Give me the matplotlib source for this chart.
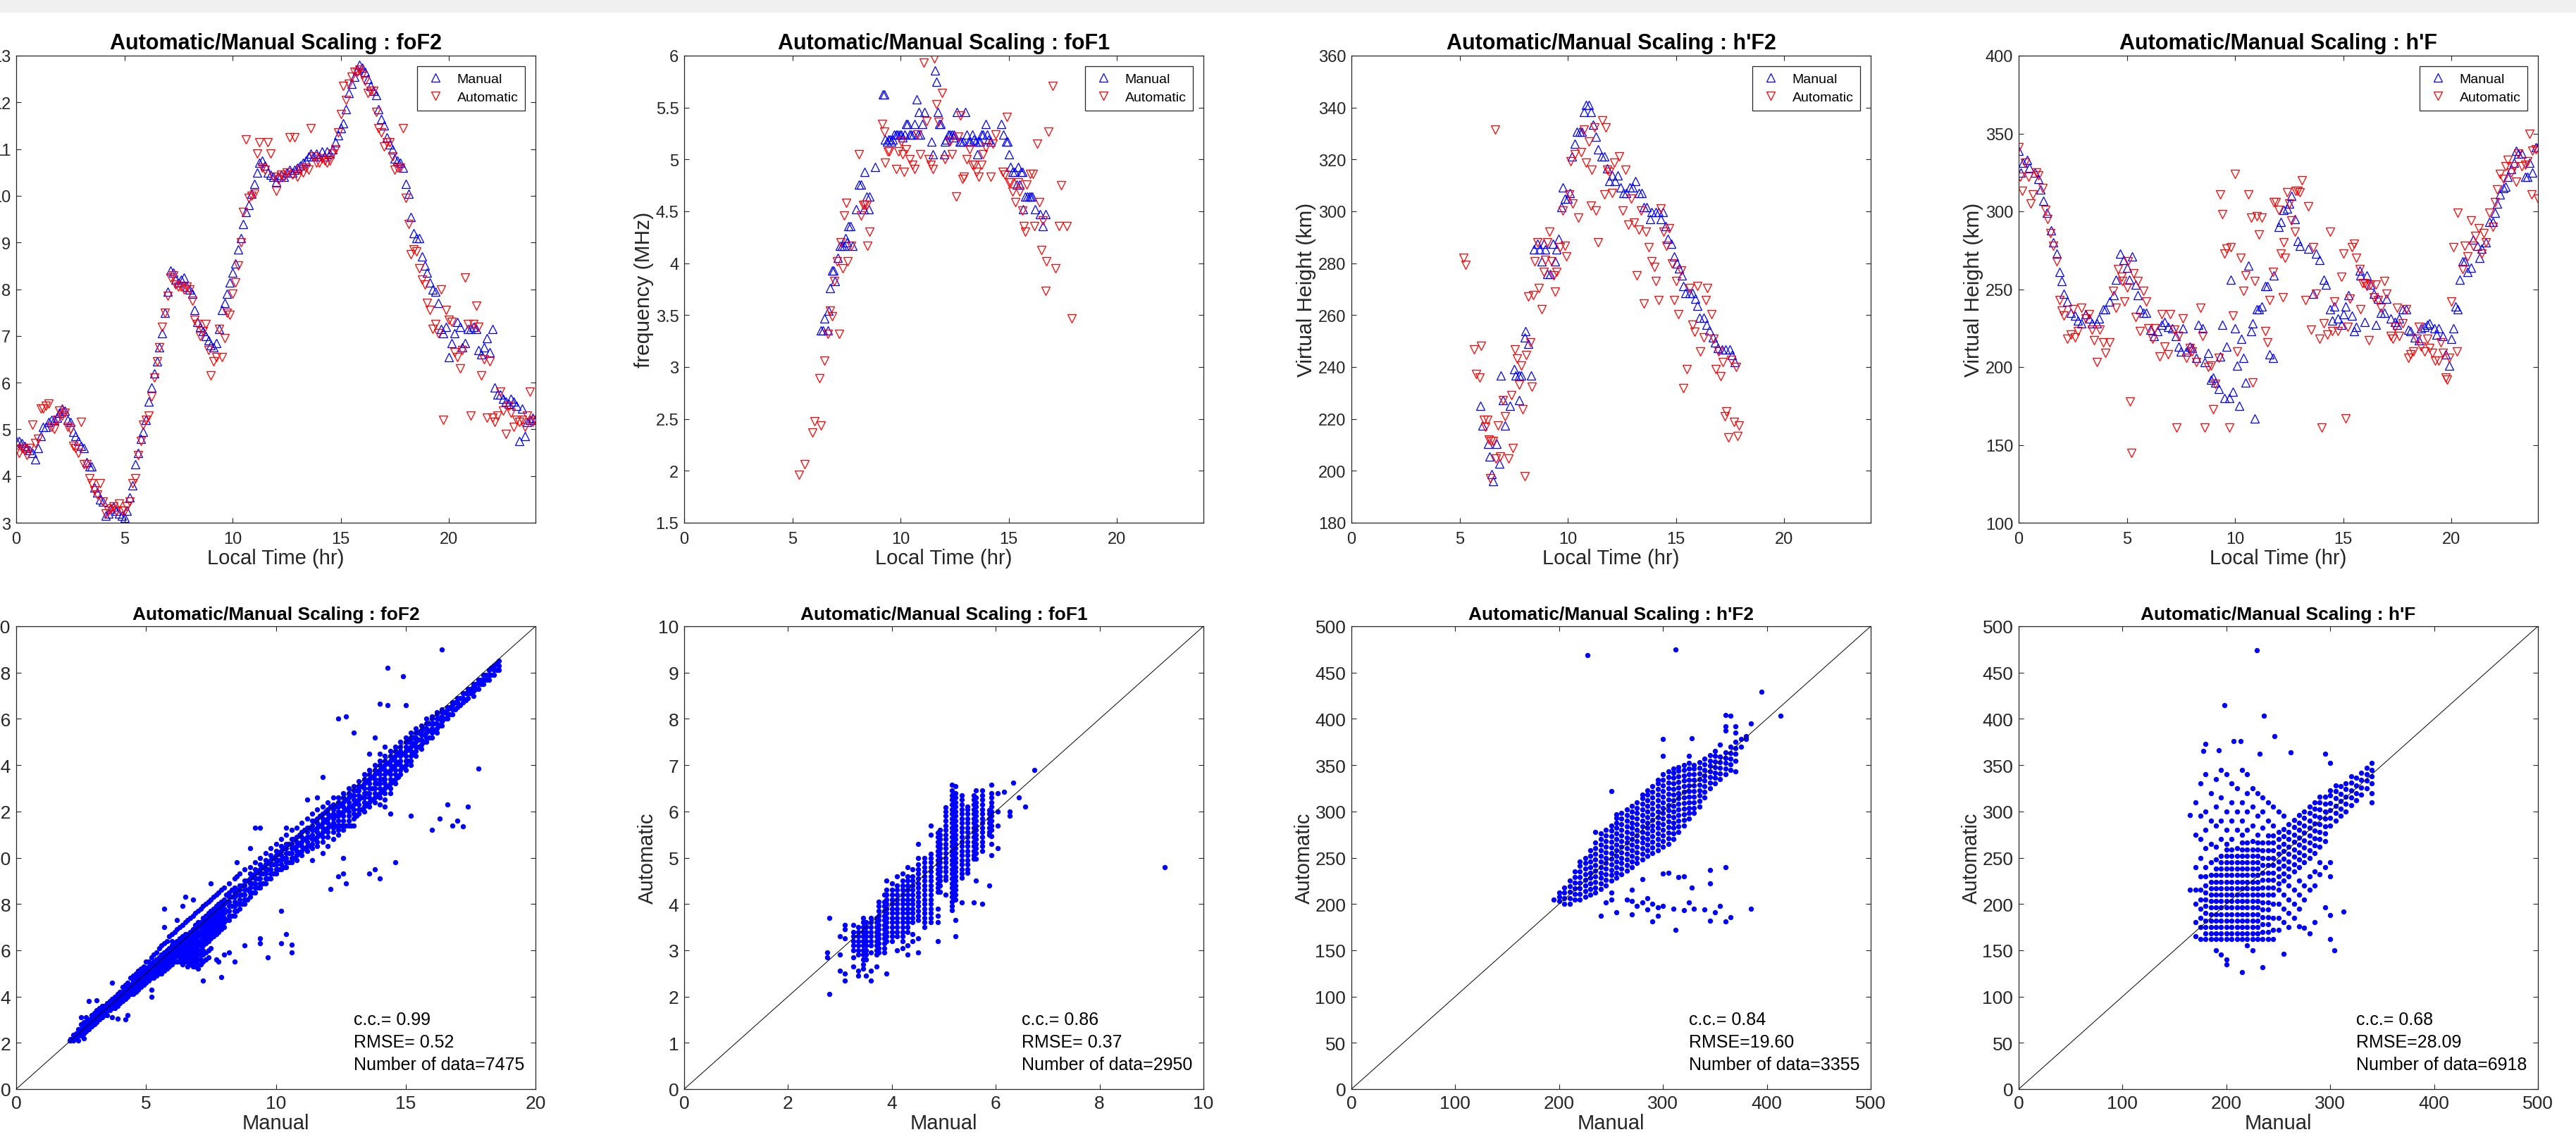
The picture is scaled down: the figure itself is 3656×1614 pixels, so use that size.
import numpy as np
import matplotlib
matplotlib.use('Agg')
import matplotlib.pyplot as plt
from matplotlib.ticker import FuncFormatter
from matplotlib.patches import Rectangle

plt.rcParams['font.family'] = ['Liberation Sans', 'DejaVu Sans']

# ---------------- top row: one day, value vs local time ----------------
# foF2, one value every 7.5 minutes (0 .. 24 h)
foF2_manual = [
    4.75, 4.75, 4.70, 4.65, 4.60, 4.55, 4.50, 4.35,
    4.60, 4.85, 5.05, 5.05, 5.15, 5.20, 5.20, 5.25,
    5.35, 5.45, 5.40, 5.20, 5.15, 4.95, 4.85, 4.75,
    4.65, 4.60, 4.30, 4.20, 4.20, 3.75, 3.65, 3.50,
    3.45, 3.15, 3.20, 3.30, 3.35, 3.25, 3.20, 3.15,
    3.10, 3.25, 3.55, 3.80, 4.25, 4.50, 4.80, 4.95,
    5.20, 5.60, 5.90, 6.20, 6.45, 6.75, 7.05, 7.50,
    7.95, 8.40, 8.35, 8.20, 8.15, 8.20, 8.25, 8.05,
    8.00, 7.90, 7.55, 7.30, 7.20, 7.10, 7.00, 6.90,
    6.80, 6.75, 6.85, 7.15, 7.55, 7.70, 7.90, 8.15,
    8.35, 8.55, 8.85, 9.10, 9.40, 9.65, 9.80, 10.05,
    10.25, 10.50, 10.70, 10.75, 10.65, 10.50, 10.45, 10.40,
    10.30, 10.40, 10.45, 10.40, 10.50, 10.55, 10.50, 10.55,
    10.60, 10.65, 10.70, 10.75, 10.85, 10.90, 10.85, 10.90,
    10.85, 10.95, 10.85, 10.95, 10.90, 11.00, 11.15, 11.30,
    11.45, 11.55, 11.85, 12.20, 12.40, 12.55, 12.70, 12.80,
    12.75, 12.65, 12.50, 12.35, 12.25, 12.15, 11.85, 11.65,
    11.50, 11.25, 11.10, 11.00, 10.80, 10.75, 10.70, 10.60,
    10.25, 10.05, 9.55, 9.20, 9.10, 9.10, 8.70, 8.50,
    8.35, 8.15, 8.00, 7.95, 7.70, 7.15, 7.05, 7.20,
    6.55, 6.85, 7.05, 7.30, 7.20, 6.75, 6.85, 7.15,
    7.15, 7.20, 7.15, 6.70, 6.60, 6.75, 6.95, 6.65,
    7.15, 5.90, 5.75, 5.75, 5.65, 5.60, 5.55, 5.65,
    5.60, 5.50, 4.75, 5.45, 4.85, 5.15, 5.20, 5.25,
    5.20]
foF2_auto = [
    4.55, 4.50, 4.60, 4.55, 4.45, 4.60, 5.10, 4.70,
    4.80, 5.45, 5.45, 5.50, 5.55, 5.05, 5.00, 5.20,
    5.40, 5.30, 5.35, 5.05, 5.00, 4.65, 4.60, 4.50,
    5.15, 4.25, 4.25, 3.95, 3.85, 3.70, 3.60, 3.85,
    3.45, 3.20, 3.25, 3.30, 3.35, 3.25, 3.40, 3.25,
    3.25, 3.35, 3.45, 3.85, 3.95, 4.45, 4.75, 5.10,
    5.20, 5.30, 5.70, 6.10, 6.45, 6.75, 7.20, 7.50,
    7.85, 8.25, 8.30, 8.10, 8.05, 8.05, 8.00, 8.05,
    8.00, 7.75, 7.35, 7.25, 7.00, 7.10, 7.25, 6.70,
    6.15, 6.45, 6.55, 7.15, 6.55, 6.95, 7.50, 7.45,
    7.90, 8.15, 8.50, 9.00, 9.65, 11.20, 9.95, 10.00,
    10.05, 10.90, 11.15, 10.60, 10.55, 11.15, 10.90, 10.40,
    10.10, 10.35, 10.45, 10.40, 10.50, 11.25, 10.45, 11.25,
    10.40, 10.55, 10.50, 10.60, 10.55, 11.45, 10.85, 10.70,
    10.70, 10.80, 10.75, 10.70, 10.75, 10.90, 11.00, 11.35,
    11.75, 12.35, 12.05, 12.40, 12.55, 12.65, 12.65, 12.70,
    12.60, 12.45, 12.20, 12.25, 12.25, 11.80, 11.45, 11.35,
    11.05, 11.15, 11.15, 10.85, 10.55, 10.60, 10.60, 11.45,
    9.95, 9.40, 8.75, 8.85, 8.80, 8.45, 8.20, 8.10,
    7.70, 7.55, 7.15, 7.25, 7.05, 8.00, 5.20, 7.55,
    7.35, 7.30, 6.65, 6.55, 6.30, 6.70, 8.25, 7.25,
    5.30, 7.25, 7.65, 7.20, 6.15, 6.50, 5.25, 6.45,
    5.25, 5.15, 5.30, 5.80, 5.40, 4.90, 5.50, 5.35,
    5.05, 5.20, 5.15, 5.20, 5.05, 5.30, 5.80, 5.15,
    5.20]

# foF1 (time h, MHz)
foF1_manual = [
    (6.33, 3.35), (6.42, 3.35), (6.48, 3.47), (6.63, 3.35), (6.67, 3.54), (6.74, 3.76),
    (6.85, 3.93), (6.9, 3.93), (6.98, 3.83), (7.1, 4.05), (7.19, 4.17), (7.28, 4.17),
    (7.38, 4.17), (7.45, 4.24), (7.52, 4.2), (7.6, 4.36), (7.68, 4.36), (7.79, 4.17),
    (7.94, 4.52), (8.08, 4.76), (8.16, 4.76), (8.3, 4.52), (8.35, 4.88), (8.45, 4.64),
    (8.54, 4.52), (8.58, 4.64), (8.82, 4.93), (9.19, 5.63), (9.26, 5.63), (9.29, 5.19),
    (9.38, 5.17), (9.44, 5.19), (9.5, 5.19), (9.57, 5.17), (9.65, 5.19), (9.72, 5.24),
    (9.8, 5.24), (9.88, 5.24), (9.95, 5.24), (10.02, 5.24), (10.1, 5.21), (10.19, 5.24),
    (10.26, 5.34), (10.33, 5.34), (10.41, 5.24), (10.5, 5.24), (10.57, 5.24), (10.64, 5.34),
    (10.75, 5.58), (10.8, 5.24), (10.84, 5.46), (10.9, 5.24), (11.01, 5.34), (11.09, 5.46),
    (11.44, 5.17), (11.5, 5.05), (11.59, 5.86), (11.65, 5.75), (11.72, 5.46), (11.8, 5.34),
    (11.85, 5.34), (12.0, 5.05), (12.06, 5.17), (12.12, 5.19), (12.2, 5.24), (12.28, 5.24),
    (12.36, 5.24), (12.44, 5.21), (12.47, 5.24), (12.6, 5.46), (12.72, 5.17), (12.8, 5.17),
    (12.9, 5.17), (13.0, 5.46), (13.07, 5.24), (13.15, 5.17), (13.22, 5.17), (13.31, 5.24),
    (13.4, 5.19), (13.48, 5.17), (13.56, 5.05), (13.62, 5.17), (13.69, 5.17), (13.75, 5.24),
    (13.82, 5.24), (13.93, 5.34), (14.0, 5.24), (14.08, 5.19), (14.16, 5.17), (14.66, 5.34),
    (14.76, 5.24), (14.87, 5.17), (14.95, 5.17), (15.0, 5.05), (15.09, 4.93), (15.18, 4.88),
    (15.28, 4.88), (15.36, 4.76), (15.43, 4.93), (15.51, 4.76), (15.58, 4.88), (15.62, 4.88),
    (15.66, 4.52), (15.75, 4.64), (15.85, 4.64), (15.95, 4.64), (16.03, 4.64), (16.1, 4.64),
    (16.22, 4.52), (16.46, 4.47), (16.59, 4.36), (16.69, 4.47)]
foF1_auto = [
    (5.32, 1.96), (5.58, 2.06), (5.92, 2.37), (6.01, 2.48), (6.25, 2.89), (6.33, 2.44),
    (6.48, 3.06), (6.63, 3.32), (6.74, 3.54), (6.85, 3.49), (6.93, 3.83), (7.08, 4.02),
    (7.15, 3.32), (7.23, 4.2), (7.34, 3.95), (7.38, 4.46), (7.49, 4.58), (7.57, 4.02),
    (7.73, 4.17), (8.07, 5.05), (8.16, 4.46), (8.26, 4.56), (8.35, 4.56), (8.45, 4.56),
    (8.48, 4.17), (8.58, 4.3), (9.14, 5.34), (9.25, 5.27), (9.29, 4.97), (9.4, 5.08),
    (9.48, 5.08), (9.81, 4.91), (9.91, 5.08), (10.04, 5.17), (10.08, 5.05), (10.17, 4.88),
    (10.26, 5.1), (10.41, 5.0), (10.56, 4.95), (10.64, 4.91), (10.79, 5.24), (10.9, 5.05),
    (11.07, 5.93), (11.2, 5.37), (11.31, 5.0), (11.4, 4.95), (11.5, 4.91), (11.57, 5.97),
    (11.65, 5.53), (11.74, 5.36), (11.91, 5.64), (12.06, 5.0), (12.28, 5.17), (12.38, 5.05),
    (12.56, 4.64), (12.66, 5.22), (12.75, 5.42), (12.85, 4.81), (12.94, 4.83), (13.07, 5.0),
    (13.18, 5.1), (13.31, 4.95), (13.41, 4.95), (13.5, 4.88), (13.6, 4.83), (13.73, 4.95),
    (13.82, 5.05), (13.93, 5.12), (14.16, 4.83), (14.25, 5.15), (14.4, 5.24), (14.72, 4.88),
    (14.81, 4.85), (14.91, 5.41), (15.0, 4.78), (15.09, 4.78), (15.19, 4.69), (15.32, 4.59),
    (15.43, 4.78), (15.51, 4.69), (15.62, 4.51), (15.69, 4.36), (15.75, 4.3), (15.84, 4.76),
    (15.99, 4.86), (16.12, 4.86), (16.18, 4.36), (16.31, 5.15), (16.4, 4.59), (16.5, 4.13),
    (16.59, 4.41), (16.69, 3.73), (16.74, 4.02), (16.82, 5.27), (17.02, 5.71), (17.15, 3.95),
    (17.34, 4.36), (17.43, 4.75), (17.68, 4.36), (17.9, 3.47)]

# h'F2 (time h, km)
hF2_manual = [
    (5.97, 225), (6.07, 217.6), (6.31, 210.5), (6.39, 205.4), (6.48, 198.6), (6.54, 196.1),
    (6.72, 210.5), (6.84, 202.9), (6.91, 236.8), (7.0, 227.3), (7.1, 217.6), (7.32, 225),
    (7.51, 239.3), (7.6, 236.8), (7.75, 236.8), (7.75, 227.3), (7.85, 236.8), (8.0, 251.5),
    (8.03, 253.9), (8.18, 249), (8.31, 236.8), (8.45, 285.4), (8.6, 287.4), (8.69, 285.4),
    (8.78, 280.6), (8.88, 287.4), (8.97, 285.4), (9.06, 275.9), (9.19, 275.9), (9.31, 287.4),
    (9.4, 280.6), (9.49, 285.4), (9.57, 289.5), (9.72, 301.7), (9.76, 309.1), (9.87, 305),
    (10.0, 305), (10.09, 307.1), (10.19, 321.3), (10.32, 326.1), (10.41, 330.8), (10.56, 330.8),
    (10.66, 330.8), (10.75, 338.3), (10.84, 341), (10.96, 341), (11.07, 338.3), (11.18, 333.5),
    (11.31, 328.8), (11.4, 324), (11.55, 321.3), (11.69, 321.3), (11.82, 316.6), (11.93, 311.8),
    (12.06, 313.9), (12.19, 311.8), (12.3, 313.9), (12.43, 309.1), (12.57, 307.1), (12.71, 307.1),
    (12.87, 309.1), (13.0, 309.1), (13.13, 311.8), (13.28, 307.1), (13.43, 307.1), (13.5, 301.7),
    (13.65, 301.7), (13.8, 296.9), (13.88, 299.6), (14.06, 299.6), (14.21, 299.6), (14.31, 296.9),
    (14.4, 299.6), (14.53, 294.2), (14.63, 289.5), (14.78, 287.4), (14.93, 282.7), (15.06, 280),
    (15.15, 277.9), (15.26, 275.2), (15.34, 271.2), (15.45, 268.4), (15.62, 268.4), (15.75, 268.4),
    (15.9, 266.4), (15.99, 263.7), (16.09, 258.9), (16.27, 258.9), (16.42, 256.2), (16.55, 254.2),
    (16.69, 251.5), (16.8, 249.4), (16.93, 247.4), (17.12, 246.7), (17.3, 246.7), (17.49, 246.7),
    (17.58, 244.7), (17.73, 242)]
hF2_auto = [
    (5.17, 282), (5.26, 279.3), (5.66, 246.7), (5.75, 237.2), (5.92, 235.9), (5.99, 248.1),
    (6.11, 219.6), (6.2, 216.9), (6.29, 219.6), (6.35, 212.1), (6.41, 197.2), (6.44, 211.5),
    (6.54, 211.5), (6.63, 331.5), (6.67, 204.7), (6.76, 217.6), (6.88, 205.4), (6.99, 227.3),
    (7.1, 220.9), (7.25, 204.7), (7.38, 229.1), (7.47, 208.7), (7.57, 246.7), (7.66, 243.3),
    (7.75, 233.2), (7.85, 240.6), (7.92, 223.7), (8.0, 197.9), (8.07, 244.7), (8.16, 267.1),
    (8.26, 249.4), (8.33, 232.5), (8.41, 267.8), (8.48, 280.6), (8.6, 288.1), (8.67, 270.5),
    (8.78, 262.3), (8.88, 276.6), (8.97, 281.3), (9.06, 288.1), (9.16, 292.2), (9.25, 280.6),
    (9.34, 275.2), (9.4, 269.1), (9.49, 276.6), (9.63, 286.1), (9.76, 300.3), (9.87, 286.7),
    (9.94, 282.7), (10.06, 306.4), (10.13, 319.3), (10.24, 303), (10.32, 322), (10.47, 297.6),
    (10.62, 322.7), (10.75, 331.5), (10.84, 318.6), (10.99, 326.8), (11.07, 302.3), (11.12, 315.9),
    (11.22, 332.2), (11.31, 300.3), (11.4, 288.1), (11.59, 334.9), (11.69, 306.4), (11.74, 332.2),
    (11.82, 315.9), (11.91, 315.2), (12.06, 307.1), (12.15, 318.6), (12.38, 321.3), (12.53, 300.3),
    (12.66, 315.9), (12.81, 294.9), (12.94, 305), (13.05, 295.6), (13.18, 275.2), (13.28, 292.9),
    (13.37, 300.3), (13.5, 264.4), (13.61, 292.2), (13.75, 286.1), (13.88, 280.6), (13.99, 278.6),
    (14.08, 273.2), (14.21, 265.7), (14.31, 301), (14.44, 292.2), (14.55, 286.7), (14.68, 293.5),
    (14.81, 280), (14.93, 265.7), (15.0, 273.2), (15.11, 260.3), (15.24, 277.3), (15.34, 231.8),
    (15.49, 239.3), (15.62, 270.5), (15.75, 256.2), (15.86, 253.5), (15.99, 271.2), (16.12, 246.1),
    (16.27, 251.5), (16.38, 265.7), (16.46, 270.5), (16.65, 260.3), (16.74, 250.8), (16.84, 239.3),
    (16.97, 246.1), (17.08, 236.5), (17.17, 242), (17.25, 220.9), (17.34, 222.9), (17.43, 212.8),
    (17.55, 242.7), (17.68, 218.9), (17.77, 240), (17.86, 213.5), (17.92, 217.6)]

# h'F (time h, km)
hF_manual = [
    (0.0, 339), (0.1, 325), (0.2, 331), (0.4, 333), (0.5, 328), (0.75, 325), (0.9, 321),
    (1.0, 314), (1.15, 307), (1.3, 299), (1.5, 288), (1.6, 280), (1.75, 273), (1.9, 261),
    (2.0, 255), (2.1, 247), (2.25, 242), (2.4, 235), (2.6, 233), (2.75, 230), (2.9, 228),
    (3.1, 234), (3.25, 231), (3.4, 228), (3.6, 228), (3.7, 231), (3.9, 237), (4.0, 237),
    (4.2, 242), (4.4, 246), (4.5, 256), (4.7, 273), (4.85, 269), (5.0, 264), (5.1, 256),
    (5.25, 271), (5.4, 253), (5.5, 246), (5.6, 237), (5.75, 235), (5.9, 235), (6.1, 224),
    (6.25, 220), (6.4, 223), (6.6, 227), (6.75, 229), (6.9, 226), (7.1, 225), (7.25, 220),
    (7.4, 213), (7.5, 210), (7.6, 225), (7.75, 210), (7.9, 213), (8.0, 212), (8.2, 206),
    (8.3, 227), (8.5, 225), (8.6, 203), (8.75, 209), (8.9, 192), (9.0, 193), (9.1, 190),
    (9.25, 186), (9.3, 207), (9.4, 227), (9.5, 180), (9.6, 213), (9.75, 180), (9.8, 256),
    (9.9, 184), (10.0, 225), (10.1, 201), (10.2, 175), (10.3, 218), (10.4, 206), (10.5, 190),
    (10.6, 265), (10.75, 223), (10.8, 228), (10.9, 167), (11.0, 237), (11.1, 237), (11.25, 239),
    (11.4, 252), (11.5, 252), (11.6, 208), (11.75, 206), (11.8, 259), (12.0, 290), (12.1, 293),
    (12.25, 301), (12.4, 302), (12.5, 305), (12.6, 310), (12.75, 295), (12.9, 281), (13.0, 278),
    (13.4, 276), (13.6, 247), (13.75, 273), (13.9, 269), (14.1, 256), (14.2, 253), (14.4, 237),
    (14.5, 230), (14.6, 239), (14.75, 231), (14.9, 227), (15.0, 234), (15.1, 239), (15.25, 246),
    (15.4, 233), (15.5, 223), (15.6, 226), (15.75, 262), (15.8, 259), (16.0, 229), (16.1, 259),
    (16.25, 253), (16.4, 247), (16.5, 227), (16.6, 244), (16.75, 235), (16.9, 235), (17.0, 244),
    (17.2, 231), (17.4, 229), (17.5, 227), (17.6, 231), (17.75, 237), (17.9, 237), (18.0, 224),
    (18.1, 223), (18.3, 219), (18.5, 217), (18.6, 225), (18.75, 226), (18.9, 227), (19.0, 228),
    (19.2, 225), (19.3, 221), (19.4, 225), (19.6, 220), (19.75, 208), (19.9, 201), (20.0, 218),
    (20.1, 225), (20.2, 239), (20.3, 237), (20.4, 256), (20.5, 268), (20.6, 268), (20.75, 261),
    (20.9, 264), (21.0, 282), (21.2, 278), (21.3, 270), (21.4, 276), (21.6, 280), (21.75, 293),
    (21.9, 293), (22.0, 299), (22.1, 305), (22.25, 311), (22.4, 315), (22.5, 316), (22.6, 322),
    (22.75, 327), (22.9, 331), (23.0, 339), (23.1, 337), (23.25, 337), (23.4, 322), (23.5, 322),
    (23.6, 331), (23.75, 325), (23.9, 341), (24.0, 341)]
hF_auto = [
    (0.0, 341), (0.05, 322), (0.15, 313), (0.3, 331), (0.45, 322), (0.55, 305), (0.65, 311),
    (0.8, 325), (0.9, 323), (1.1, 315), (1.25, 301), (1.35, 295), (1.45, 286), (1.6, 278),
    (1.75, 268), (1.9, 243), (2.0, 236), (2.1, 233), (2.25, 218), (2.4, 221), (2.5, 237),
    (2.6, 219), (2.75, 223), (2.9, 238), (3.1, 231), (3.25, 234), (3.4, 224), (3.5, 217),
    (3.6, 203), (3.75, 224), (3.9, 216), (4.0, 209), (4.2, 216), (4.35, 249), (4.5, 238),
    (4.6, 263), (4.75, 258), (4.8, 255), (4.9, 242), (5.0, 251), (5.05, 268), (5.15, 178),
    (5.2, 145), (5.3, 260), (5.4, 232), (5.5, 255), (5.6, 223), (5.75, 249), (5.9, 242),
    (6.0, 225), (6.2, 218), (6.3, 225), (6.5, 207), (6.6, 234), (6.75, 213), (6.9, 208),
    (7.0, 234), (7.2, 224), (7.3, 161), (7.4, 220), (7.6, 231), (7.75, 206), (7.9, 212),
    (8.0, 210), (8.2, 203), (8.4, 238), (8.5, 220), (8.6, 161), (8.75, 200), (8.9, 201),
    (9.0, 173), (9.1, 189), (9.25, 206), (9.3, 311), (9.4, 298), (9.5, 273), (9.6, 276),
    (9.75, 161), (9.8, 277), (9.9, 233), (10.0, 324), (10.1, 210), (10.25, 270), (10.4, 249),
    (10.5, 259), (10.6, 311), (10.75, 296), (10.8, 190), (10.9, 255), (11.0, 297), (11.1, 285),
    (11.25, 296), (11.4, 223), (11.5, 216), (11.6, 243), (11.75, 261), (11.8, 306), (11.9, 306),
    (12.0, 301), (12.1, 273), (12.2, 245), (12.25, 280), (12.3, 270), (12.4, 312), (12.5, 305),
    (12.6, 294), (12.75, 287), (12.8, 313), (12.9, 313), (13.0, 312), (13.1, 320), (13.25, 243),
    (13.4, 303), (13.5, 224), (13.6, 277), (13.75, 247), (13.9, 218), (14.0, 161), (14.1, 228),
    (14.25, 221), (14.4, 287), (14.5, 223), (14.6, 242), (14.75, 223), (14.9, 258), (15.0, 273),
    (15.1, 167), (15.2, 226), (15.3, 244), (15.4, 277), (15.5, 279), (15.6, 270), (15.75, 263),
    (15.8, 237), (15.9, 254), (16.0, 254), (16.1, 252), (16.2, 217), (16.25, 253), (16.4, 245),
    (16.5, 253), (16.6, 243), (16.75, 238), (16.9, 255), (17.0, 247), (17.2, 220), (17.3, 218),
    (17.4, 226), (17.5, 238), (17.6, 220), (17.75, 228), (17.9, 237), (18.0, 206), (18.1, 208),
    (18.25, 210), (18.4, 218), (18.5, 226), (18.6, 213), (18.75, 210), (18.9, 218), (19.0, 212),
    (19.1, 209), (19.25, 204), (19.4, 204), (19.5, 216), (19.6, 209), (19.75, 193), (19.8, 192),
    (19.9, 206), (20.0, 242), (20.1, 277), (20.25, 210), (20.3, 299), (20.5, 263), (20.6, 278),
    (20.75, 271), (20.9, 294), (21.0, 278), (21.1, 284), (21.25, 289), (21.4, 273), (21.5, 286),
    (21.6, 280), (21.75, 299), (21.9, 290), (22.0, 306), (22.1, 314), (22.25, 324), (22.4, 321),
    (22.5, 329), (22.6, 333), (22.75, 325), (22.9, 329), (23.0, 319), (23.1, 337), (23.25, 329),
    (23.4, 330), (23.5, 332), (23.6, 350), (23.7, 311), (23.75, 339), (23.9, 340), (24.0, 308)]

# ---------------- bottom row: automatic vs manual, all data ----------------
# (manual value, [automatic values read at that manual value])
foF2_scatter = [
    (2.05, [2.1]), (2.1, [2.1, 2.15]), (2.2, [2.1, 2.2, 2.35]), (2.3, [2.2, 2.3, 2.4]),
    (2.4, [2.1, 2.3, 2.4, 2.6]), (2.5, [2.3, 2.5, 2.6, 2.8, 3.1]), (2.6, [2.2, 2.4, 2.6, 2.7, 2.9]),
    (2.7, [2.5, 2.6, 2.7, 2.9, 3.1]), (2.8, [2.6, 2.7, 2.8, 2.9, 3.0, 3.8]), (2.9, [2.7, 2.8, 3.0, 3.2]),
    (3.0, [2.8, 2.9, 3.0, 3.1, 3.3]), (3.1, [2.9, 3.0, 3.2, 3.4, 3.85]), (3.2, [3.0, 3.1, 3.2, 3.3, 3.5]),
    (3.3, [3.1, 3.2, 3.3, 3.4, 3.6]), (3.4, [3.2, 3.3, 3.5, 3.6]), (3.5, [3.2, 3.4, 3.5, 3.6, 3.7]),
    (3.6, [3.4, 3.5, 3.6, 3.7, 3.8]), (3.7, [3.1, 3.5, 3.6, 3.7, 3.9, 4.6]),
    (3.8, [3.5, 3.6, 3.8, 3.9, 4.0]), (3.9, [3.05, 3.6, 3.7, 3.9, 4.0, 4.1]),
    (4.0, [3.7, 3.8, 4.0, 4.1, 4.2]), (4.1, [3.8, 3.9, 4.1, 4.2, 4.4]),
    (4.2, [3.0, 3.9, 4.0, 4.1, 4.3, 4.5]), (4.3, [3.2, 4.0, 4.1, 4.3, 4.4, 4.6]),
    (4.4, [4.1, 4.2, 4.4, 4.5, 4.8]), (4.5, [4.1, 4.3, 4.4, 4.6, 4.7, 4.9]),
    (4.6, [4.2, 4.4, 4.5, 4.6, 4.8, 5.0]), (4.7, [4.3, 4.5, 4.6, 4.8, 4.9, 5.1]),
    (4.8, [4.4, 4.6, 4.7, 4.9, 5.0, 5.2]), (4.9, [4.5, 4.6, 4.8, 4.9, 5.1, 5.3]),
    (5.0, [4.6, 4.7, 4.9, 5.0, 5.2, 5.5]), (5.1, [4.7, 4.8, 5.0, 5.1, 5.3, 5.5]),
    (5.2, [4.0, 4.3, 4.8, 4.9, 5.1, 5.2, 5.4, 5.7]), (5.3, [4.8, 5.0, 5.2, 5.3, 5.5, 5.8]),
    (5.4, [4.9, 5.1, 5.2, 5.4, 5.6, 5.9]), (5.5, [5.0, 5.1, 5.3, 5.5, 5.7, 6.1]),
    (5.6, [5.0, 5.2, 5.4, 5.6, 5.8, 6.2]), (5.7, [5.1, 5.3, 5.5, 5.7, 5.9, 6.3, 7.0, 7.8]),
    (5.8, [5.2, 5.4, 5.6, 5.8, 6.0, 6.4]), (5.9, [5.3, 5.5, 5.7, 5.9, 6.1, 6.6]),
    (6.0, [5.4, 5.6, 5.8, 6.0, 6.2, 6.4, 6.7]), (6.1, [5.5, 5.7, 5.9, 6.1, 6.3, 6.8]),
    (6.2, [5.5, 5.8, 6.0, 6.2, 6.4, 6.9, 7.3]), (6.3, [5.5, 5.7, 5.9, 6.1, 6.3, 6.5, 7.0]),
    (6.4, [5.4, 5.6, 5.8, 6.0, 6.2, 6.4, 6.6, 7.1, 7.9]),
    (6.5, [5.5, 5.7, 5.9, 6.1, 6.3, 6.5, 6.7, 7.2, 8.3]),
    (6.6, [5.3, 5.5, 5.7, 5.9, 6.1, 6.3, 6.5, 6.7, 7.3]),
    (6.7, [5.4, 5.6, 5.8, 6.0, 6.2, 6.4, 6.6, 6.8, 7.4]),
    (6.8, [5.3, 5.5, 5.7, 5.9, 6.1, 6.3, 6.5, 6.7, 6.9, 7.5, 8.2]),
    (6.9, [5.3, 5.5, 5.7, 5.9, 6.1, 6.3, 6.5, 6.7, 6.9, 7.1, 7.6]),
    (7.0, [5.2, 5.4, 5.6, 5.8, 6.0, 6.2, 6.4, 6.6, 6.8, 7.0, 7.2, 7.7]),
    (7.1, [5.4, 5.6, 5.8, 6.0, 6.2, 6.4, 6.6, 6.8, 7.0, 7.2, 7.8]),
    (7.2, [4.7, 5.5, 5.8, 6.0, 6.2, 6.4, 6.6, 6.8, 7.0, 7.2, 7.4, 7.9]),
    (7.3, [5.6, 5.9, 6.3, 6.5, 6.7, 6.9, 7.1, 7.3, 7.5, 8.0]),
    (7.4, [5.7, 6.0, 6.4, 6.6, 6.8, 7.0, 7.2, 7.4, 7.6, 8.1]),
    (7.5, [6.1, 6.5, 6.7, 6.9, 7.1, 7.3, 7.5, 7.7, 8.2, 8.9]),
    (7.6, [6.6, 6.8, 7.0, 7.2, 7.4, 7.6, 7.8, 8.3]),
    (7.7, [5.6, 6.7, 6.9, 7.1, 7.3, 7.5, 7.7, 7.9, 8.4]),
    (7.8, [5.5, 6.8, 7.0, 7.2, 7.4, 7.6, 7.8, 8.0, 8.5]),
    (7.9, [4.85, 6.9, 7.1, 7.3, 7.5, 7.7, 7.9, 8.1, 8.6]),
    (8.0, [5.8, 7.0, 7.2, 7.4, 7.6, 7.8, 8.0, 8.2, 8.7]),
    (8.1, [7.3, 7.7, 8.1, 8.4]),
    (8.2, [5.9, 7.3, 7.5, 7.7, 7.9, 8.1, 8.3, 8.5, 8.9]),
    (8.3, [7.5, 7.9, 8.3, 8.6]),
    (8.4, [5.5, 7.5, 7.7, 7.9, 8.1, 8.3, 8.5, 8.7, 9.1]),
    (8.5, [7.7, 8.0, 8.4, 8.6, 9.2, 9.8]),
    (8.6, [7.8, 8.0, 8.2, 8.4, 8.6, 8.8, 9.3]),
    (8.7, [8.0, 8.4, 8.8]),
    (8.8, [6.2, 8.0, 8.2, 8.4, 8.6, 8.8, 9.0, 9.5]),
    (8.9, [8.2, 8.6, 9.0]),
    (9.0, [8.3, 8.5, 8.7, 8.9, 9.1, 9.3, 9.6, 10.4]),
    (9.1, [8.5, 8.9, 9.2]),
    (9.2, [8.5, 8.7, 8.9, 9.1, 9.3, 9.5, 9.8, 11.3]),
    (9.3, [8.7, 9.1, 9.4]),
    (9.4, [6.3, 6.5, 8.7, 8.9, 9.1, 9.3, 9.5, 9.7, 10.0, 11.3]),
    (9.5, [8.9, 9.3, 9.6]),
    (9.6, [8.9, 9.1, 9.3, 9.5, 9.7, 9.9, 10.2]), (9.7, [5.7, 9.1, 9.5, 9.8]),
    (9.8, [9.1, 9.3, 9.5, 9.7, 9.9, 10.1, 10.4]), (9.9, [9.3, 9.7, 10.0]),
    (10.0, [9.3, 9.5, 9.7, 9.9, 10.1, 10.3, 10.6]), (10.1, [9.5, 9.9, 10.2]),
    (10.2, [6.3, 7.7, 9.5, 9.7, 9.9, 10.1, 10.3, 10.5, 10.8]), (10.3, [9.6, 10.0, 10.4]),
    (10.4, [6.7, 9.6, 9.8, 10.0, 10.2, 10.4, 10.6, 11.0, 11.3]), (10.5, [9.8, 10.2, 10.6]),
    (10.6, [5.9, 6.25, 9.8, 10.0, 10.2, 10.4, 10.6, 10.8, 11.2]), (10.7, [10.0, 10.4, 10.8]),
    (10.8, [9.9, 10.1, 10.3, 10.5, 10.7, 10.9, 11.3]), (10.9, [10.2, 10.6, 11.0]),
    (11.0, [10.1, 10.3, 10.5, 10.7, 10.9, 11.1, 11.5]), (11.1, [10.4, 10.8, 11.2]),
    (11.2, [10.3, 10.5, 10.7, 10.9, 11.1, 11.3, 11.7, 12.5]), (11.3, [10.5, 10.9, 11.3]),
    (11.4, [9.9, 10.4, 10.6, 10.8, 11.0, 11.2, 11.4, 11.6, 11.9]), (11.5, [10.8, 11.2, 11.6]),
    (11.6, [10.5, 10.7, 10.9, 11.1, 11.3, 11.5, 11.7, 12.1, 12.6]), (11.7, [11.0, 11.4, 11.8]),
    (11.8, [10.2, 10.7, 10.9, 11.1, 11.3, 11.5, 11.7, 11.9, 12.2, 13.5]),
    (11.9, [11.2, 11.6, 12.0]),
    (12.0, [10.5, 10.9, 11.1, 11.3, 11.5, 11.7, 11.9, 12.1, 12.4]),
    (12.1, [8.65, 11.4, 11.8, 12.2]),
    (12.2, [10.8, 11.1, 11.3, 11.5, 11.7, 11.9, 12.1, 12.3, 12.6]), (12.3, [11.4, 11.8, 12.2]),
    (12.4, [9.2, 11.0, 11.2, 11.4, 11.6, 11.8, 12.0, 12.2, 12.4, 12.6, 16.0]),
    (12.5, [11.4, 11.9, 12.3]),
    (12.6, [9.3, 10.0, 11.2, 11.4, 11.6, 11.8, 12.0, 12.2, 12.4, 12.6, 12.8]),
    (12.7, [8.9, 11.4, 12.1, 12.5, 16.1]),
    (12.8, [11.4, 11.6, 11.8, 12.0, 12.2, 12.4, 12.6, 12.8, 13.0]), (12.9, [11.4, 12.2, 12.7]),
    (13.0, [11.4, 11.7, 11.9, 12.1, 12.3, 12.5, 12.7, 12.9, 13.1, 15.4]),
    (13.1, [11.8, 12.4, 12.9]),
    (13.2, [11.9, 12.1, 12.3, 12.5, 12.7, 12.9, 13.1, 13.3]), (13.3, [12.1, 12.6, 13.1]),
    (13.4, [12.0, 12.2, 12.4, 12.6, 12.8, 13.0, 13.2, 13.4, 13.6]), (13.5, [12.3, 12.8, 13.3]),
    (13.6, [9.3, 12.2, 12.4, 12.6, 12.8, 13.0, 13.2, 13.4, 13.6, 13.8, 14.5]),
    (13.7, [12.5, 13.0, 13.5]),
    (13.8, [9.5, 12.4, 12.6, 12.8, 13.0, 13.2, 13.4, 13.6, 13.8, 14.0, 15.2]),
    (13.9, [12.7, 13.2, 13.7]),
    (14.0, [9.1, 12.3, 12.6, 12.8, 13.0, 13.2, 13.4, 13.6, 13.8, 14.0, 14.2, 14.5, 16.65]),
    (14.1, [12.9, 13.4, 13.9]),
    (14.2, [12.2, 12.5, 12.8, 13.0, 13.2, 13.4, 13.6, 13.8, 14.0, 14.2, 14.4, 14.8]),
    (14.3, [13.1, 13.7, 14.1, 16.6, 18.2]),
    (14.4, [11.9, 12.8, 13.0, 13.2, 13.4, 13.6, 13.8, 14.0, 14.2, 14.4, 14.6]),
    (14.5, [13.3, 13.9, 14.3]),
    (14.6, [9.8, 13.2, 13.4, 13.6, 13.8, 14.0, 14.2, 14.4, 14.6, 14.8]),
    (14.7, [13.5, 14.1, 14.5]),
    (14.8, [13.6, 13.8, 14.0, 14.2, 14.4, 14.6, 14.8, 15.0]), (14.9, [13.9, 14.5, 17.85]),
    (15.0, [13.8, 14.0, 14.2, 14.4, 14.6, 14.8, 15.0, 15.2, 16.6]), (15.1, [14.2, 14.7, 15.0]),
    (15.2, [11.8, 14.0, 14.2, 14.4, 14.6, 14.8, 15.0, 15.2, 15.4]), (15.3, [14.5, 14.9, 15.2]),
    (15.4, [14.4, 14.6, 14.8, 15.0, 15.2, 15.4, 15.6]), (15.5, [14.8, 15.1, 15.4]),
    (15.6, [14.7, 14.9, 15.1, 15.3, 15.5, 15.7]), (15.7, [15.0, 15.3, 15.6]),
    (15.8, [15.0, 15.2, 15.4, 15.6, 15.8, 16.0]), (15.9, [15.2, 15.5, 15.8]),
    (16.0, [11.2, 15.2, 15.4, 15.6, 15.8, 16.0, 16.1]), (16.1, [15.5, 15.8]),
    (16.2, [15.4, 15.6, 15.8, 16.0, 16.2, 16.3]), (16.3, [11.7, 15.7, 16.0]),
    (16.4, [15.7, 15.9, 16.1, 16.3, 16.4, 19.0]), (16.5, [16.0, 16.3]),
    (16.6, [12.3, 16.0, 16.2, 16.4, 16.5]), (16.7, [16.2, 16.5]),
    (16.8, [11.4, 16.2, 16.4, 16.6, 16.7]), (16.9, [16.4, 16.7]),
    (17.0, [11.6, 16.5, 16.7, 16.9]), (17.1, [16.6, 16.9]),
    (17.2, [11.35, 16.7, 16.9, 17.1]), (17.3, [16.8, 17.1]),
    (17.4, [12.2, 16.9, 17.1, 17.3]), (17.5, [17.1, 17.3]),
    (17.6, [17.0, 17.2, 17.4, 17.5]), (17.7, [17.3, 17.5]),
    (17.8, [13.85, 17.3, 17.5, 17.7]), (17.9, [17.5, 17.7]),
    (18.0, [17.5, 17.7, 17.9]), (18.1, [17.7, 17.9]), (18.2, [17.7, 17.9, 18.1]),
    (18.3, [17.9, 18.2]), (18.4, [17.9, 18.1, 18.3]), (18.5, [18.1, 18.4]),
    (18.6, [18.1, 18.3, 18.5])]

foF1_scatter = [
    (2.75, [2.85, 2.95]), (2.8, [2.05, 3.7]), (3.0, [2.55, 2.9, 3.3]),
    (3.1, [2.35, 2.5, 3.25, 3.45, 3.55]),
    (3.25, [2.65, 2.85, 3.0, 3.1, 3.2, 3.3, 3.4, 3.55]),
    (3.35, [2.45, 2.55, 2.9, 3.0, 3.1, 3.2, 3.3, 3.4, 3.5]),
    (3.45, [2.6, 2.7, 2.8, 2.9, 3.0, 3.1, 3.2, 3.3, 3.4, 3.5, 3.6, 3.7]),
    (3.5, [2.45, 2.8, 2.9, 3.0, 3.1, 3.2, 3.3, 3.4, 3.5, 3.6]),
    (3.6, [2.35, 2.55, 2.95, 3.1, 3.2, 3.3, 3.4, 3.5, 3.6, 3.7]),
    (3.7, [2.65, 2.9, 3.0, 3.1, 3.2, 3.3, 3.4, 3.5, 3.6, 3.7]),
    (3.75, [2.95, 3.05, 3.15, 3.25, 3.35, 3.45, 3.55, 3.65, 3.75, 3.85, 3.95, 4.05]),
    (3.85, [2.95, 3.05, 3.15, 3.25, 3.35, 3.45, 3.55, 3.65, 3.75, 3.85, 3.95, 4.05, 4.2]),
    (3.9, [2.5, 3.2, 3.3, 3.4, 3.5, 3.6, 3.7, 3.8, 3.9, 4.0, 4.1, 4.2, 4.3, 4.5]),
    (4.0, [3.2, 3.3, 3.4, 3.5, 3.6, 3.7, 3.8, 3.9, 4.0, 4.1, 4.2, 4.3, 4.45]),
    (4.1, [3.0, 3.3, 3.4, 3.5, 3.6, 3.7, 3.8, 3.9, 4.0, 4.1, 4.2, 4.3, 4.4, 4.6]),
    (4.2, [3.05, 3.2, 3.3, 3.4, 3.5, 3.6, 3.7, 3.8, 3.9, 4.0, 4.1, 4.2, 4.3, 4.4, 4.5, 4.65]),
    (4.3, [2.9, 3.1, 3.4, 3.5, 3.6, 3.7, 3.8, 3.9, 4.0, 4.1, 4.2, 4.3, 4.4, 4.5, 4.6, 4.8]),
    (4.4, [3.2, 3.35, 3.6, 3.7, 3.8, 3.9, 4.0, 4.1, 4.2, 4.3, 4.4, 4.5, 4.6, 4.75]),
    (4.5, [2.95, 3.25, 3.65, 3.75, 3.85, 3.95, 4.05, 4.15, 4.25, 4.35, 4.45, 4.55, 4.65, 4.75,
           4.85, 5.0, 5.3]),
    (4.63, [3.5, 3.6, 3.7, 3.8, 3.9, 4.0, 4.1, 4.2, 4.3, 4.4, 4.5, 4.6, 4.7, 4.8, 4.9, 5.0]),
    (4.75, [3.6, 3.7, 3.8, 3.9, 4.0, 4.1, 4.2, 4.3, 4.4, 4.5, 4.6, 4.7, 4.8, 4.9, 5.0, 5.08,
            5.5, 5.7]),
    (4.88, [3.2, 3.6, 3.75, 3.9, 4.26, 4.35, 4.45, 4.55, 4.65, 4.75, 4.85, 4.95, 5.05, 5.15,
            5.25, 5.35, 5.45, 5.54]),
    (4.92, [4.26, 4.4, 4.5, 4.6, 4.7, 4.8, 4.9, 5.0, 5.1, 5.2, 5.3, 5.4, 5.5, 5.6]),
    (5.04, [4.2, 4.52, 4.6, 4.7, 4.8, 4.9, 5.0, 5.1, 5.2, 5.3, 5.4, 5.5, 5.6, 5.7, 5.8, 5.9,
            6.0, 6.09]),
    (5.16, [3.87, 3.95, 4.05, 4.15, 4.25, 4.35, 4.45, 4.55, 4.65, 4.75, 4.85, 4.95, 5.05, 5.15,
            5.25, 5.35, 5.45, 5.55, 5.65, 5.75, 5.85, 5.95, 6.05, 6.15, 6.25, 6.35, 6.45, 6.57]),
    (5.23, [3.3, 3.65, 4.1, 4.2, 4.3, 4.4, 4.5, 4.6, 4.7, 4.8, 4.9, 5.0, 5.1, 5.2, 5.3, 5.4,
            5.5, 5.6, 5.7, 5.8, 5.9, 6.0, 6.1, 6.2, 6.3, 6.4, 6.55]),
    (5.34, [4.04, 4.57, 4.65, 4.75, 4.85, 4.95, 5.05, 5.15, 5.25, 5.35, 5.45, 5.55, 5.65, 5.75,
            5.85, 5.95, 6.05, 6.15, 6.25, 6.35]),
    (5.45, [4.67, 4.75, 4.85, 4.95, 5.05, 5.15, 5.25, 5.35, 5.45, 5.55, 5.65, 5.75, 5.85, 5.95,
            6.05, 6.1]),
    (5.58, [4.04, 4.97, 5.05, 5.15, 5.25, 5.35, 5.45, 5.55, 5.65, 5.75, 5.85, 5.95, 6.05, 6.15,
            6.25, 6.34]),
    (5.62, [4.5, 4.98, 5.1, 5.2, 5.3, 5.4, 5.5, 5.6, 5.7, 5.8, 5.9, 6.0, 6.1, 6.2, 6.3, 6.45]),
    (5.74, [4.0, 5.15, 5.25, 5.35, 5.45, 5.55, 5.65, 5.75, 5.85, 5.95, 6.05, 6.15, 6.25, 6.35,
            6.45]),
    (5.87, [4.4, 5.5, 5.55, 5.65, 5.75, 5.85, 5.95, 6.02]),
    (5.92, [5.05, 5.3, 5.46, 5.6, 5.7, 5.8, 5.9, 6.0, 6.1, 6.2, 6.3, 6.4, 6.58]),
    (6.04, [5.2, 5.7, 6.0, 6.4]), (6.16, [6.42]), (6.27, [5.9, 6.0]), (6.33, [6.62]),
    (6.45, [6.3]), (6.57, [6.1]), (6.75, [6.9]), (9.25, [4.8])]

hF2_scatter = [
    (195, [205]), (200, [203, 208, 212]), (205, [200, 206, 212, 218]),
    (210, [200, 206, 213, 219, 225]), (215, [205, 211, 217, 223, 229, 235]),
    (220, [205, 211, 217, 223, 229, 235, 241, 246]),
    (225, [208, 214, 220, 226, 232, 238, 244, 250]), (227, [469]),
    (230, [210, 216, 222, 228, 234, 240, 246, 252, 258]),
    (235, [212, 218, 224, 230, 236, 242, 248, 254, 260, 266, 278]),
    (240, [187, 216, 222, 228, 234, 240, 246, 252, 258, 264, 270, 276]),
    (245, [202, 220, 226, 232, 238, 244, 250, 256, 262, 268, 274, 280]),
    (250, [205, 212, 225, 231, 237, 243, 249, 255, 261, 267, 273, 279, 285, 322]),
    (255, [191, 228, 234, 240, 246, 252, 258, 264, 270, 276, 282, 288, 293, 297]),
    (260, [232, 238, 244, 250, 256, 262, 268, 274, 280, 286, 292, 298]),
    (265, [205, 236, 242, 248, 254, 260, 266, 272, 278, 284, 290, 296, 302]),
    (270, [189, 203, 215, 240, 246, 252, 258, 264, 270, 276, 282, 288, 294, 300, 306]),
    (275, [198, 244, 250, 256, 262, 268, 274, 280, 286, 292, 298, 304, 310]),
    (280, [202, 227, 248, 254, 260, 266, 272, 278, 284, 290, 296, 302, 308, 314, 318]),
    (285, [194, 206, 252, 258, 264, 270, 276, 282, 288, 294, 300, 306, 312, 318, 323]),
    (290, [181, 200, 255, 261, 267, 273, 279, 285, 291, 297, 303, 309, 315, 321, 327]),
    (295, [187, 196, 258, 264, 270, 276, 282, 288, 294, 300, 306, 312, 318, 324, 330, 334]),
    (300, [198, 233, 262, 268, 274, 280, 286, 292, 298, 304, 310, 316, 322, 328, 334, 340,
           360, 378]),
    (305, [234, 265, 271, 277, 283, 289, 295, 301, 307, 313, 319, 325, 331, 337, 343]),
    (310, [195, 270, 276, 282, 288, 294, 300, 306, 312, 318, 324, 330, 336, 342, 346]),
    (312, [172, 475]),
    (315, [229, 278, 284, 290, 296, 302, 308, 314, 320, 326, 332, 338, 344, 348]),
    (320, [193, 230, 285, 291, 297, 303, 309, 315, 321, 327, 333, 339, 345, 350]),
    (325, [202, 292, 298, 304, 310, 316, 322, 328, 334, 340, 346, 352, 360]),
    (328, [218, 379]),
    (330, [195, 298, 304, 310, 316, 322, 328, 334, 340, 346, 350]),
    (335, [305, 311, 317, 323, 329, 335, 341, 347, 353]),
    (340, [194, 315, 321, 327, 333, 339, 345, 351, 357]),
    (345, [182, 222, 237, 325, 331, 337, 343, 349, 355, 361]),
    (350, [191, 330, 336, 342, 348, 354, 360, 365]),
    (355, [198, 335, 341, 347, 353, 359, 372]),
    (360, [181, 240, 340, 346, 352, 358, 364, 387, 392, 404]),
    (365, [186, 345, 351, 357, 363, 370, 403]),
    (370, [343, 355, 362, 368, 375, 385, 392]), (375, [370, 378]), (380, [378, 381]),
    (385, [195, 395]), (395, [429]), (413, [403])]

hF_scatter = [
    (165, [215, 296]), (170, [165, 180, 200, 215, 240, 275, 310]),
    (175, [162, 175, 185, 195, 205, 215, 230, 250, 270, 295, 330]), (178, [365]),
    (180, [162, 168, 175, 182, 190, 198, 205, 212, 220, 230, 240, 260, 280, 300, 340, 373]),
    (185, [162, 168, 175, 182, 189, 196, 203, 210, 217, 224, 231, 245, 265, 290, 320]),
    (190, [150, 162, 168, 175, 182, 189, 196, 203, 210, 217, 224, 231, 238, 248, 262, 285,
           305, 335]),
    (193, [366]),
    (195, [145, 162, 168, 175, 182, 189, 196, 203, 210, 217, 224, 231, 238, 245, 252, 270,
           290, 315, 345]),
    (198, [415]),
    (200, [135, 140, 162, 168, 175, 182, 189, 196, 203, 210, 217, 224, 231, 238, 245, 252,
           259, 265, 280, 300, 340]),
    (205, [162, 168, 175, 182, 189, 196, 203, 210, 217, 224, 231, 238, 245, 252, 259, 270,
           290, 310, 330]),
    (207, [376]),
    (210, [162, 168, 175, 182, 189, 196, 203, 210, 217, 224, 231, 238, 245, 252, 260, 280,
           300, 325]),
    (214, [376]),
    (215, [126, 162, 168, 175, 182, 189, 196, 203, 210, 217, 224, 231, 238, 245, 252, 259,
           266, 275, 290, 310, 345]),
    (220, [155, 162, 168, 175, 182, 189, 196, 203, 210, 217, 224, 231, 238, 245, 252, 259,
           266, 280, 300, 320, 340]),
    (225, [150, 162, 168, 175, 182, 189, 196, 203, 210, 217, 224, 231, 238, 245, 252, 259,
           268, 285, 305, 325]),
    (229, [474]),
    (230, [162, 168, 175, 182, 189, 196, 203, 210, 217, 224, 231, 238, 245, 252, 259, 266,
           275, 295, 320]),
    (232, [362]),
    (235, [132, 162, 170, 178, 186, 194, 202, 210, 218, 226, 234, 242, 250, 258, 266, 282,
           300, 315]),
    (236, [403]),
    (240, [162, 170, 178, 186, 194, 202, 210, 218, 226, 234, 242, 250, 258, 266, 274, 290,
           310]),
    (245, [162, 172, 185, 200, 210, 218, 226, 234, 242, 250, 258, 266, 274, 285, 305]),
    (246, [381]),
    (250, [172, 185, 200, 215, 222, 230, 238, 246, 254, 262, 270, 278, 300]),
    (255, [146, 180, 195, 210, 225, 233, 241, 249, 257, 265, 273, 281, 295]),
    (260, [175, 190, 205, 220, 230, 238, 246, 254, 262, 270, 278, 286]), (262, [364]),
    (265, [185, 200, 215, 235, 243, 251, 259, 267, 275, 283, 291]),
    (270, [176, 195, 210, 225, 240, 248, 256, 264, 272, 280, 288, 296]),
    (275, [174, 205, 220, 245, 253, 261, 269, 277, 285, 293, 300]),
    (280, [168, 215, 230, 250, 258, 266, 274, 282, 290, 298, 305]),
    (285, [180, 220, 235, 255, 263, 271, 279, 287, 295, 303, 310]),
    (290, [232, 245, 262, 270, 278, 286, 294, 302, 310, 316]),
    (295, [196, 240, 268, 276, 284, 292, 300, 308, 316, 362]),
    (300, [162, 188, 230, 245, 285, 293, 301, 309, 317, 323, 352]),
    (304, [150]), (305, [290, 298, 306, 314, 322, 328]), (310, [295, 303, 311, 319, 327]),
    (313, [192]), (315, [300, 308, 316, 324, 330]), (320, [307, 315, 323, 331, 338]),
    (325, [312, 320, 328, 336]), (330, [318, 326, 334, 342]), (335, [325, 333, 340, 347]),
    (340, [310, 320, 330, 338, 345, 352])]

stats = [
    ['c.c.= 0.99', 'RMSE= 0.52', 'Number of data=7475'],
    ['c.c.= 0.86', 'RMSE= 0.37', 'Number of data=2950'],
    ['c.c.= 0.84', 'RMSE=19.60', 'Number of data=3355'],
    ['c.c.= 0.68', 'RMSE=28.09', 'Number of data=6918'],
]

# ---------------- figure ----------------
W, H = 3656, 1615
GREY = '#262626'
fig = plt.figure(figsize=(W / 100, H / 100), dpi=100)
fig.patches.append(Rectangle((0, 1 - 19 / H), 1, 19 / H, transform=fig.transFigure,
                             facecolor='#f0f0f0', edgecolor='none', zorder=0))

lefts = [23, 971, 1918, 2865]
aw = 737
top_axes = [fig.add_axes([l / W, (H - 743) / H, aw / W, 663 / H]) for l in lefts]
bot_axes = [fig.add_axes([l / W, (H - 1547) / H, aw / W, 657 / H]) for l in lefts]

fmt = FuncFormatter(lambda v, p: f'{v:g}')


def style(ax, fs, xpad):
    ax.tick_params(direction='in', top=True, right=True, length=5, width=0.8,
                   colors=GREY, labelsize=fs)
    ax.tick_params(axis='x', pad=xpad)
    ax.tick_params(axis='y', pad=5.5)
    for s in ax.spines.values():
        s.set_color(GREY)
        s.set_linewidth(0.9)
    ax.xaxis.set_major_formatter(fmt)
    ax.yaxis.set_major_formatter(fmt)


def top_panel(ax, man, aut, title, ylim, yticks, ylabel):
    ax.plot(man[0], man[1], '^', ms=8, mfc='none', mec='blue', mew=0.9, ls='none', label='Manual')
    ax.plot(aut[0], aut[1], 'v', ms=8, mfc='none', mec='red', mew=0.9, ls='none', label='Automatic')
    ax.set_xlim(0, 24)
    ax.set_xticks([0, 5, 10, 15, 20])
    ax.set_ylim(*ylim)
    ax.set_yticks(yticks)
    style(ax, 17, 9)
    ax.set_title(title, fontsize=22, fontweight='bold', pad=7)
    ax.set_xlabel('Local Time (hr)', fontsize=21, labelpad=1, color=GREY)
    ax.set_ylabel(ylabel, fontsize=21.5, labelpad=2, color=GREY)
    leg = ax.legend(loc='upper right', bbox_to_anchor=(0.98, 0.978), borderaxespad=0,
                    fontsize=14, frameon=True, fancybox=False, edgecolor=GREY,
                    framealpha=1, handlelength=1.6, handletextpad=0.8, borderpad=0.5,
                    labelspacing=0.45, numpoints=1)
    leg.get_frame().set_linewidth(0.9)


def bottom_panel(ax, table, lim, ticks, title, lines):
    xs = [m for m, al in table for a in al]
    ys = [a for m, al in table for a in al]
    ax.plot(xs, ys, 'o', ms=5.3, mfc='blue', mec='none', ls='none', zorder=2)
    ax.plot([0, lim], [0, lim], color='black', lw=0.7, zorder=3)
    ax.set_xlim(0, lim)
    ax.set_ylim(0, lim)
    ax.set_xticks(ticks[0])
    ax.set_yticks(ticks[1])
    style(ax, 19, 6)
    ax.set_title(title, fontsize=19, fontweight='bold', pad=7)
    ax.set_xlabel('Manual', fontsize=21, labelpad=1, color=GREY)
    ax.set_ylabel('Automatic', fontsize=21, labelpad=1, color=GREY)
    for yy, s in zip([0.151, 0.102, 0.054], lines):
        ax.text(0.65, yy, s, transform=ax.transAxes, fontsize=18, va='center', ha='left')


t_foF2 = 0.125 * np.arange(len(foF2_manual))
top_panel(top_axes[0], (t_foF2, foF2_manual), (t_foF2, foF2_auto),
          'Automatic/Manual Scaling : foF2', (3, 13), range(3, 14), 'frequency (MHz)')
top_panel(top_axes[1], np.array(foF1_manual).T, np.array(foF1_auto).T,
          'Automatic/Manual Scaling : foF1', (1.5, 6), np.arange(1.5, 6.01, 0.5), 'frequency (MHz)')
top_panel(top_axes[2], np.array(hF2_manual).T, np.array(hF2_auto).T,
          "Automatic/Manual Scaling : h'F2", (180, 360), range(180, 361, 20), 'Virtual Height (km)')
top_panel(top_axes[3], np.array(hF_manual).T, np.array(hF_auto).T,
          "Automatic/Manual Scaling : h'F", (100, 400), range(100, 401, 50), 'Virtual Height (km)')

bottom_panel(bot_axes[0], foF2_scatter, 20, (range(0, 21, 5), range(0, 21, 2)),
             'Automatic/Manual Scaling : foF2', stats[0])
bottom_panel(bot_axes[1], foF1_scatter, 10, (range(0, 11, 2), range(0, 11, 1)),
             'Automatic/Manual Scaling : foF1', stats[1])
bottom_panel(bot_axes[2], hF2_scatter, 500, (range(0, 501, 100), range(0, 501, 50)),
             "Automatic/Manual Scaling : h'F2", stats[2])
bottom_panel(bot_axes[3], hF_scatter, 500, (range(0, 501, 100), range(0, 501, 50)),
             "Automatic/Manual Scaling : h'F", stats[3])

fig.savefig('out.png', dpi=100)
